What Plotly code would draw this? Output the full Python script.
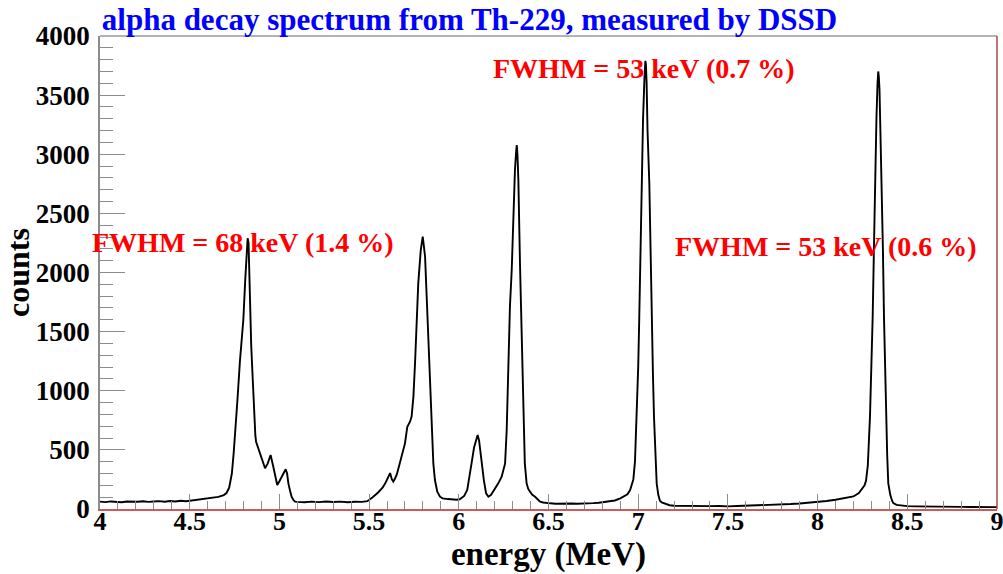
import plotly.graph_objects as go

# Th-229 alpha spectrum (DSSD), energy in MeV and counts per bin
energy_mev = [
    4.00, 4.03, 4.06, 4.09, 4.12, 4.15, 4.18, 4.21, 4.24, 4.27, 4.30, 4.33,
    4.36, 4.39, 4.42, 4.45, 4.48, 4.51, 4.54, 4.57, 4.60, 4.63, 4.66, 4.69,
    4.705, 4.72, 4.735, 4.745, 4.755, 4.766, 4.78, 4.799, 4.81, 4.818, 4.823,
    4.828, 4.832, 4.836, 4.843, 4.849, 4.855, 4.860, 4.866, 4.870, 4.880,
    4.892, 4.906, 4.920, 4.935, 4.951, 4.966, 4.978, 4.988, 5.000, 5.013,
    5.025, 5.035, 5.043, 5.050, 5.060, 5.068, 5.078, 5.087,
    5.10, 5.14, 5.18, 5.22, 5.26, 5.30, 5.34, 5.38, 5.42, 5.46, 5.49, 5.50,
    5.52, 5.55, 5.575, 5.59, 5.605, 5.617, 5.627, 5.635, 5.645, 5.654, 5.67,
    5.685, 5.700, 5.713, 5.728, 5.737, 5.747, 5.756, 5.765, 5.774, 5.788,
    5.795, 5.799, 5.804, 5.812, 5.821, 5.830, 5.839, 5.849, 5.858, 5.867,
    5.880, 5.895, 5.91, 5.94, 5.96, 5.988, 6.005, 6.016,
    6.03, 6.047, 6.06, 6.071, 6.085, 6.097, 6.105, 6.113, 6.12, 6.128, 6.14,
    6.152, 6.165, 6.18, 6.192, 6.205, 6.220, 6.239, 6.252, 6.258, 6.267,
    6.276, 6.285, 6.295, 6.304, 6.313, 6.319, 6.323, 6.327, 6.332, 6.341,
    6.350, 6.359, 6.368, 6.378, 6.387, 6.397, 6.41, 6.425, 6.44, 6.453,
    6.47, 6.49, 6.51, 6.54, 6.57, 6.60, 6.63, 6.66, 6.69, 6.72, 6.75, 6.78,
    6.81, 6.84, 6.87, 6.90, 6.92, 6.94, 6.955, 6.965, 6.973, 6.982, 6.992,
    7.000, 7.006, 7.013, 7.019, 7.027, 7.035, 7.040, 7.043, 7.047, 7.052,
    7.062, 7.068, 7.075, 7.082, 7.088, 7.095, 7.103, 7.112, 7.121, 7.131,
    7.15, 7.175, 7.20, 7.25, 7.30, 7.35, 7.40, 7.45, 7.50, 7.55, 7.60, 7.65,
    7.70, 7.75, 7.80, 7.85, 7.90, 7.95, 8.00, 8.05, 8.10, 8.15, 8.20, 8.23,
    8.25, 8.262, 8.27, 8.28, 8.292, 8.300, 8.307, 8.314, 8.320, 8.328,
    8.334, 8.338, 8.341, 8.345, 8.350, 8.357, 8.364, 8.370, 8.376, 8.381,
    8.388, 8.394, 8.405, 8.415, 8.422, 8.44, 8.47, 8.50, 8.55, 8.60, 8.65,
    8.70, 8.75, 8.80, 8.85, 8.90, 8.95, 9.00,
]

counts = [
    62, 58, 64, 60, 57, 63, 59, 61, 66, 60, 63, 67,
    62, 68, 64, 70, 66, 72, 75, 80, 88, 92, 102, 118,
    135, 180, 300, 470, 650, 920, 1250, 1600, 1950, 2200, 2290,
    2250, 2000, 1600, 1380, 1175, 950, 752, 620, 569, 520,
    471, 400, 344, 386, 457, 358, 260, 203, 235, 273,
    310, 336, 300, 217, 150, 104, 76, 62,
    60, 57, 62, 58, 64, 59, 62, 57, 61, 60, 66, 76,
    100, 140, 180, 217, 260, 304, 250, 231, 260, 290, 380,
    470, 555, 696, 738, 781, 950, 1232, 1626, 1908, 2190,
    2260, 2303, 2240, 2134, 1795, 1457, 1006, 668, 386, 245,
    147, 104, 90, 84, 80, 78, 82, 93,
    110, 161, 270, 386, 520, 600, 626, 580, 490, 386, 240,
    133, 104, 120, 147, 180, 217, 273, 358, 386, 668,
    1232, 1711, 2021, 2501, 2867, 3010, 3078, 3000, 2782, 2078,
    1457, 809, 386, 217, 170, 147, 120, 104, 80, 62,
    55, 50, 48, 45, 47, 43, 46, 44, 48, 46, 50, 53,
    58, 62, 72, 90, 105, 125, 160, 200, 250, 400, 781,
    1200, 1626, 2200, 2754, 3300, 3650, 3790, 3760, 3600, 3200,
    2754, 2200, 1626, 1150, 781, 450, 217, 120, 70, 55,
    42, 32, 28, 26, 25, 27, 24, 26, 22, 25, 27, 30,
    32, 35, 38, 42, 47, 52, 58, 68, 78, 90, 106, 135,
    170, 200, 240, 370, 781, 1200, 1626, 2200, 2754, 3300,
    3600, 3700, 3660, 3550, 3200, 2754, 2200, 1626, 1150, 781,
    450, 217, 120, 70, 50, 35, 28, 24, 22, 20, 21,
    19, 18, 18, 17, 17, 16, 16,
]

x_ticks = [4, 4.5, 5, 5.5, 6, 6.5, 7, 7.5, 8, 8.5, 9]
x_tick_text = ["4", "4.5", "5", "5.5", "6", "6.5", "7", "7.5", "8", "8.5", "9"]
y_ticks = [0, 500, 1000, 1500, 2000, 2500, 3000, 3500, 4000]

# FWHM labels: text, x (MeV), y (counts)
fwhm_text = ["FWHM = 68 keV (1.4 %)", "FWHM = 53 keV (0.7 %)", "FWHM = 53 keV (0.6 %)"]
fwhm_x = [4.797, 7.03, 8.047]
fwhm_y = [2250, 3729, 2224]

SERIF = "Liberation Serif, Times New Roman, serif"
AXIS_GRAY = "#8c8c8c"

fig = go.Figure()
fig.add_trace(go.Scatter(
    x=energy_mev, y=counts, mode="lines",
    line=dict(color="#000000", width=1.9),
    showlegend=False, hoverinfo="x+y",
))

for t, xv, yv in zip(fwhm_text, fwhm_x, fwhm_y):
    fig.add_annotation(
        x=xv, y=yv, text=t, showarrow=False,
        font=dict(family=SERIF, size=28, color="#ff0000", weight="bold"),
        xanchor="center", yanchor="middle",
    )

# top and right frame edges
fig.add_shape(type="line", xref="paper", yref="paper", x0=0, x1=1, y0=1, y1=1,
              line=dict(color="#9a9a9a", width=1.5))
fig.add_shape(type="line", xref="paper", yref="paper", x0=1, x1=1, y0=0, y1=1,
              line=dict(color="#a84a4a", width=1.5))

fig.update_layout(
    width=1003, height=574,
    margin=dict(l=100, r=6, t=36, b=65, autoexpand=False),
    paper_bgcolor="white", plot_bgcolor="white",
    title=dict(
        text="alpha decay spectrum from Th-229, measured by DSSD",
        font=dict(family=SERIF, size=31, color="#0000ff", weight="bold"),
        xref="paper", x=0.002, xanchor="left",
        yref="container", y=0.966, yanchor="middle",
    ),
)

fig.update_xaxes(
    range=[4, 9], tickvals=x_ticks, ticktext=x_tick_text,
    automargin=True, ticklabeloverflow="allow",
    showgrid=False, zeroline=False,
    showline=True, linecolor="#cc5a5a", linewidth=2,
    ticks="inside", ticklen=15, tickwidth=1, tickcolor=AXIS_GRAY,
    minor=dict(dtick=0.1, ticks="inside", ticklen=8, tickwidth=1, tickcolor=AXIS_GRAY),
    tickfont=dict(family=SERIF, size=26, color="#000000", weight="bold"),
    ticklabelstandoff=-12,
    title=dict(text="energy (MeV)", standoff=0,
               font=dict(family=SERIF, size=33, color="#000000", weight="bold")),
)

fig.update_yaxes(
    range=[0, 4000], tickvals=y_ticks,
    automargin=True,
    showgrid=False, zeroline=False,
    showline=True, linecolor=AXIS_GRAY, linewidth=1.5,
    ticks="inside", ticklen=25, tickwidth=1, tickcolor=AXIS_GRAY,
    minor=dict(dtick=100, ticks="inside", ticklen=13, tickwidth=1, tickcolor=AXIS_GRAY),
    tickfont=dict(family=SERIF, size=27, color="#000000", weight="bold"),
    ticklabelstandoff=3,
    title=dict(text="counts", standoff=8,
               font=dict(family=SERIF, size=32, color="#000000", weight="bold")),
)

fig.write_html("out.html")
